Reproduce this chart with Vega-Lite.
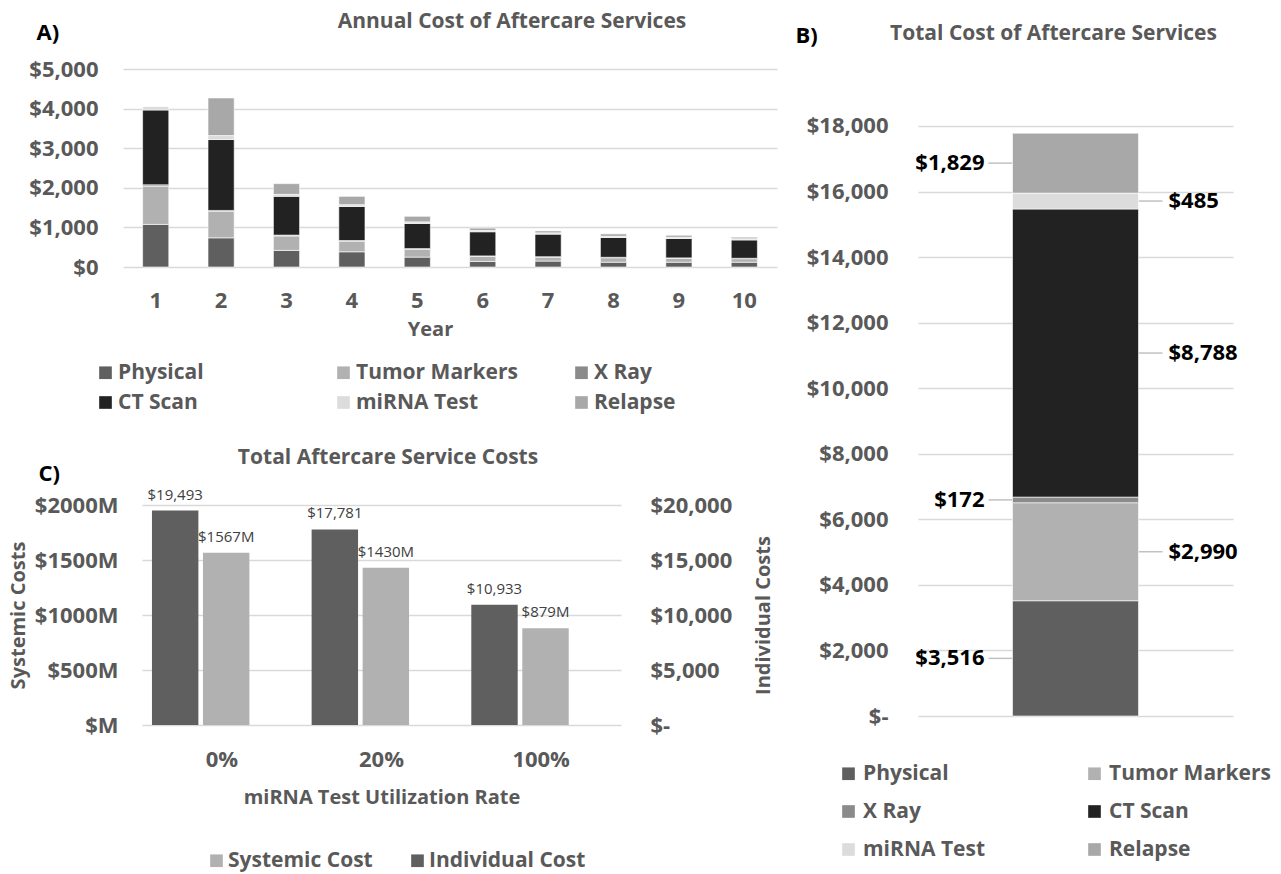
{
  "$schema": "https://vega.github.io/schema/vega-lite/v6.json",
  "background": "white",
  "padding": {"left": 8, "top": 11, "right": 0, "bottom": 6},
  "datasets": {
    "annual": [
      {"year": 1, "service": "Physical", "seq": 1, "cost": 1075},
      {"year": 1, "service": "Tumor Markers", "seq": 2, "cost": 965},
      {"year": 1, "service": "X Ray", "seq": 3, "cost": 35},
      {"year": 1, "service": "CT Scan", "seq": 4, "cost": 1890},
      {"year": 1, "service": "miRNA Test", "seq": 5, "cost": 93},
      {"year": 1, "service": "Relapse", "seq": 6, "cost": 0},
      {"year": 2, "service": "Physical", "seq": 1, "cost": 737},
      {"year": 2, "service": "Tumor Markers", "seq": 2, "cost": 665},
      {"year": 2, "service": "X Ray", "seq": 3, "cost": 27},
      {"year": 2, "service": "CT Scan", "seq": 4, "cost": 1790},
      {"year": 2, "service": "miRNA Test", "seq": 5, "cost": 100},
      {"year": 2, "service": "Relapse", "seq": 6, "cost": 950},
      {"year": 3, "service": "Physical", "seq": 1, "cost": 420},
      {"year": 3, "service": "Tumor Markers", "seq": 2, "cost": 365},
      {"year": 3, "service": "X Ray", "seq": 3, "cost": 20},
      {"year": 3, "service": "CT Scan", "seq": 4, "cost": 980},
      {"year": 3, "service": "miRNA Test", "seq": 5, "cost": 50},
      {"year": 3, "service": "Relapse", "seq": 6, "cost": 270},
      {"year": 4, "service": "Physical", "seq": 1, "cost": 384},
      {"year": 4, "service": "Tumor Markers", "seq": 2, "cost": 265},
      {"year": 4, "service": "X Ray", "seq": 3, "cost": 20},
      {"year": 4, "service": "CT Scan", "seq": 4, "cost": 860},
      {"year": 4, "service": "miRNA Test", "seq": 5, "cost": 45},
      {"year": 4, "service": "Relapse", "seq": 6, "cost": 210},
      {"year": 5, "service": "Physical", "seq": 1, "cost": 250},
      {"year": 5, "service": "Tumor Markers", "seq": 2, "cost": 195},
      {"year": 5, "service": "X Ray", "seq": 3, "cost": 20},
      {"year": 5, "service": "CT Scan", "seq": 4, "cost": 635},
      {"year": 5, "service": "miRNA Test", "seq": 5, "cost": 40},
      {"year": 5, "service": "Relapse", "seq": 6, "cost": 140},
      {"year": 6, "service": "Physical", "seq": 1, "cost": 140},
      {"year": 6, "service": "Tumor Markers", "seq": 2, "cost": 130},
      {"year": 6, "service": "X Ray", "seq": 3, "cost": 10},
      {"year": 6, "service": "CT Scan", "seq": 4, "cost": 610},
      {"year": 6, "service": "miRNA Test", "seq": 5, "cost": 32},
      {"year": 6, "service": "Relapse", "seq": 6, "cost": 60},
      {"year": 7, "service": "Physical", "seq": 1, "cost": 150},
      {"year": 7, "service": "Tumor Markers", "seq": 2, "cost": 100},
      {"year": 7, "service": "X Ray", "seq": 3, "cost": 10},
      {"year": 7, "service": "CT Scan", "seq": 4, "cost": 570},
      {"year": 7, "service": "miRNA Test", "seq": 5, "cost": 32},
      {"year": 7, "service": "Relapse", "seq": 6, "cost": 50},
      {"year": 8, "service": "Physical", "seq": 1, "cost": 120},
      {"year": 8, "service": "Tumor Markers", "seq": 2, "cost": 115},
      {"year": 8, "service": "X Ray", "seq": 3, "cost": 10},
      {"year": 8, "service": "CT Scan", "seq": 4, "cost": 500},
      {"year": 8, "service": "miRNA Test", "seq": 5, "cost": 31},
      {"year": 8, "service": "Relapse", "seq": 6, "cost": 60},
      {"year": 9, "service": "Physical", "seq": 1, "cost": 120},
      {"year": 9, "service": "Tumor Markers", "seq": 2, "cost": 100},
      {"year": 9, "service": "X Ray", "seq": 3, "cost": 10},
      {"year": 9, "service": "CT Scan", "seq": 4, "cost": 490},
      {"year": 9, "service": "miRNA Test", "seq": 5, "cost": 31},
      {"year": 9, "service": "Relapse", "seq": 6, "cost": 50},
      {"year": 10, "service": "Physical", "seq": 1, "cost": 120},
      {"year": 10, "service": "Tumor Markers", "seq": 2, "cost": 90},
      {"year": 10, "service": "X Ray", "seq": 3, "cost": 10},
      {"year": 10, "service": "CT Scan", "seq": 4, "cost": 463},
      {"year": 10, "service": "miRNA Test", "seq": 5, "cost": 31},
      {"year": 10, "service": "Relapse", "seq": 6, "cost": 39}
    ],
    "totals": [
      {"panel": "Total", "service": "Physical", "seq": 1, "cost": 3516},
      {"panel": "Total", "service": "Tumor Markers", "seq": 2, "cost": 2990},
      {"panel": "Total", "service": "X Ray", "seq": 3, "cost": 172},
      {"panel": "Total", "service": "CT Scan", "seq": 4, "cost": 8788},
      {"panel": "Total", "service": "miRNA Test", "seq": 5, "cost": 485},
      {"panel": "Total", "service": "Relapse", "seq": 6, "cost": 1829}
    ],
    "scenarios": [
      {"rate": "0%", "series": "Individual Cost", "value": 19493},
      {"rate": "0%", "series": "Systemic Cost", "value": 1567},
      {"rate": "20%", "series": "Individual Cost", "value": 17781},
      {"rate": "20%", "series": "Systemic Cost", "value": 1430},
      {"rate": "100%", "series": "Individual Cost", "value": 10933},
      {"rate": "100%", "series": "Systemic Cost", "value": 879}
    ]
  },
  "hconcat": [
    {
      "vconcat": [
        {
          "data": {"name": "annual"},
          "width": 654,
          "height": 198,
          "title": {"text": "Annual Cost of Aftercare Services", "dx": 62, "offset": -11},
          "mark": {"type": "bar", "stroke": "#ffffff", "strokeWidth": 0.6},
          "encoding": {
            "x": {
              "field": "year", "type": "ordinal",
              "scale": {"paddingInner": 0.6, "paddingOuter": 0.3},
              "axis": {"labelAngle": 0, "labelPadding": 23, "title": "Year", "titlePadding": 8, "titleX": 307, "grid": false}
            },
            "y": {
              "field": "cost", "type": "quantitative", "stack": "zero",
              "scale": {"domain": [0, 5000], "nice": false},
              "axis": {
                "values": [0, 1000, 2000, 3000, 4000, 5000], "format": "$,.0f", "labelPadding": 25,
                "title": "A)", "titleAngle": 0, "titleAlign": "left", "titleBaseline": "middle",
                "titleX": -87, "titleY": -37, "titleColor": "#000000", "titleFontSize": 22
              }
            },
            "color": {
              "field": "service", "type": "nominal",
              "scale": {
                "domain": ["Physical", "Tumor Markers", "X Ray", "CT Scan", "miRNA Test", "Relapse"],
                "range": ["#5f5f5f", "#b1b1b1", "#8b8b8b", "#222222", "#dcdcdc", "#a8a8a8"]
              },
              "legend": {
                "orient": "none", "legendX": -28, "legendY": 293, "direction": "horizontal", "columns": 3, "gridAlign": "all",
                "columnPadding": 52, "rowPadding": 8, "labelOffset": 2, "title": null
              }
            },
            "order": {"field": "seq", "type": "quantitative"}
          }
        },
        {
          "data": {"name": "scenarios"},
          "width": 498,
          "height": 220,
          "title": {"text": "Total Aftercare Service Costs", "dx": 16, "offset": -6},
          "encoding": {
            "xOffset": {
              "field": "series", "type": "nominal",
              "scale": {"domain": ["Individual Cost", "Systemic Cost"], "paddingInner": 0.09, "paddingOuter": 0.61, "align": 0.16}
            },
            "color": {
              "field": "series", "type": "nominal",
              "scale": {"domain": ["Systemic Cost", "Individual Cost"], "range": ["#b1b1b1", "#5f5f5f"]},
              "legend": {
                "orient": "none", "legendX": 83, "legendY": 345, "direction": "horizontal", "columns": 2, "gridAlign": "each",
                "columnPadding": 34, "labelOffset": 1, "title": null
              }
            }
          },
          "layer": [
            {
              "transform": [{"filter": "datum.series == 'Systemic Cost'"}],
              "encoding": {
                "x": {
                  "field": "rate", "type": "nominal", "sort": ["0%", "20%", "100%"],
                  "scale": {"range": [19, 498], "paddingInner": 0, "paddingOuter": 0},
                  "axis": {"orient": "bottom", "labelAngle": 0, "labelPadding": 24, "title": "miRNA Test Utilization Rate", "titlePadding": 17, "grid": false}
                },
                "y": {
                  "field": "value", "type": "quantitative",
                  "scale": {"domain": [0, 2000], "nice": false},
                  "axis": {
                    "orient": "left", "values": [0, 500, 1000, 1500, 2000], "grid": true,
                    "labelExpr": "'$' + (datum.value == 0 ? '' : datum.value) + 'M'",
                    "labelPadding": 5, "title": "Systemic Costs", "titlePadding": 6
                  }
                }
              },
              "layer": [
                {"mark": {"type": "bar"}},
                {
                  "mark": {"type": "text", "baseline": "bottom", "dy": -8, "fontSize": 15, "text": {"expr": "'$' + datum.value + 'M'"}},
                  "encoding": {"color": {"value": "#404040"}}
                }
              ]
            },
            {
              "transform": [{"filter": "datum.series == 'Individual Cost'"}],
              "encoding": {
                "x": {
                  "field": "rate", "type": "nominal", "sort": ["0%", "20%", "100%"],
                  "scale": {"range": [19, 498], "paddingInner": 0, "paddingOuter": 0},
                  "axis": {
                    "orient": "top", "labels": false, "grid": false,
                    "title": "C)", "titleAngle": 0, "titleAlign": "left", "titleBaseline": "middle",
                    "titleX": -85, "titleY": -32, "titleColor": "#000000", "titleFontSize": 22
                  }
                },
                "y": {
                  "field": "value", "type": "quantitative",
                  "scale": {"domain": [0, 20000], "nice": false},
                  "axis": {
                    "orient": "right", "values": [0, 5000, 10000, 15000, 20000], "grid": false,
                    "labelExpr": "datum.value == 0 ? '$-' : '$' + format(datum.value, ',')",
                    "labelPadding": 29, "title": "Individual Costs", "titleAngle": -90, "titlePadding": 42
                  }
                }
              },
              "layer": [
                {"mark": {"type": "bar"}},
                {
                  "mark": {"type": "text", "baseline": "bottom", "dy": -8, "fontSize": 15},
                  "encoding": {
                    "text": {"field": "value", "type": "quantitative", "format": "$,"},
                    "color": {"value": "#404040"}
                  }
                }
              ]
            }
          ],
          "resolve": {"scale": {"y": "independent"}, "axis": {"x": "independent"}}
        }
      ],
      "spacing": 34,
      "resolve": {"scale": {"color": "independent"}, "legend": {"color": "independent"}}
    },
    {
      "data": {"name": "totals"},
      "width": 315,
      "height": 647,
      "title": {"text": "Total Cost of Aftercare Services", "dx": -22, "offset": -20},
      "transform": [
        {"stack": "cost", "groupby": ["panel"], "sort": [{"field": "seq"}], "as": ["c0", "c1"]},
        {"fold": ["c0", "c1"], "as": ["edge", "pos"]},
        {"joinaggregate": [{"op": "mean", "field": "pos", "as": "mid"}], "groupby": ["service"]},
        {"filter": "datum.edge == 'c0'"}
      ],
      "layer": [
        {
          "transform": [{"filter": {"field": "service", "oneOf": ["Physical", "X Ray", "Relapse"]}}],
          "mark": {"type": "tick", "orient": "horizontal", "size": 24, "thickness": 1.5, "color": "#a6a6a6", "xOffset": -75},
          "encoding": {
            "x": {"field": "panel", "type": "nominal", "axis": null},
            "y": {"field": "mid", "type": "quantitative"}
          }
        },
        {
          "transform": [{"filter": {"field": "service", "oneOf": ["Tumor Markers", "CT Scan", "miRNA Test"]}}],
          "mark": {"type": "tick", "orient": "horizontal", "size": 24, "thickness": 1.5, "color": "#a6a6a6", "xOffset": 75},
          "encoding": {
            "x": {"field": "panel", "type": "nominal", "axis": null},
            "y": {"field": "mid", "type": "quantitative"}
          }
        },
        {
          "mark": {"type": "bar", "stroke": "#ffffff", "strokeWidth": 0.6},
          "encoding": {
            "x": {"field": "panel", "type": "nominal", "scale": {"paddingInner": 0.6, "paddingOuter": 0.3}, "axis": null},
            "y": {
              "field": "c0", "type": "quantitative",
              "scale": {"domain": [0, 19737], "nice": false},
              "axis": {
                "values": [0, 2000, 4000, 6000, 8000, 10000, 12000, 14000, 16000, 18000],
                "labelExpr": "datum.value == 0 ? '$-' : '$' + format(datum.value, ',')",
                "labelPadding": 30, "grid": true,
                "title": "B)", "titleAngle": 0, "titleAlign": "left", "titleBaseline": "middle",
                "titleX": -123, "titleY": -34, "titleColor": "#000000", "titleFontSize": 22
              }
            },
            "y2": {"field": "c1"},
            "color": {
              "field": "service", "type": "nominal",
              "scale": {
                "domain": ["Physical", "Tumor Markers", "X Ray", "CT Scan", "miRNA Test", "Relapse"],
                "range": ["#5f5f5f", "#b1b1b1", "#8b8b8b", "#222222", "#dcdcdc", "#a8a8a8"]
              },
              "legend": {
                "orient": "none", "legendX": -80, "legendY": 694, "direction": "horizontal", "columns": 2, "gridAlign": "all",
                "columnPadding": 58, "rowPadding": 16, "labelOffset": 4, "title": null
              }
            }
          }
        },
        {
          "transform": [{"filter": {"field": "service", "oneOf": ["Physical", "X Ray", "Relapse"]}}],
          "mark": {"type": "text", "align": "right", "baseline": "middle", "dx": -28, "fontSize": 22, "fontWeight": "bold", "color": "#000000"},
          "encoding": {
            "x": {"field": "panel", "type": "nominal", "bandPosition": 0, "axis": null},
            "y": {"field": "mid", "type": "quantitative"},
            "text": {"field": "cost", "type": "quantitative", "format": "$,"}
          }
        },
        {
          "transform": [{"filter": {"field": "service", "oneOf": ["Tumor Markers", "CT Scan", "miRNA Test"]}}],
          "mark": {"type": "text", "align": "left", "baseline": "middle", "dx": 30, "fontSize": 22, "fontWeight": "bold", "color": "#000000"},
          "encoding": {
            "x": {"field": "panel", "type": "nominal", "bandPosition": 1, "axis": null},
            "y": {"field": "mid", "type": "quantitative"},
            "text": {"field": "cost", "type": "quantitative", "format": "$,"}
          }
        }
      ]
    }
  ],
  "spacing": 18,
  "align": "none",
  "resolve": {"scale": {"color": "independent"}, "legend": {"color": "independent"}},
  "config": {
    "font": "Open Sans",
    "view": {"stroke": null},
    "axis": {
      "domain": false,
      "ticks": false,
      "gridColor": "#d9d9d9",
      "gridWidth": 1.5,
      "labelFont": "Open Sans",
      "labelFontSize": 22,
      "labelFontWeight": "bold",
      "labelColor": "#595959",
      "titleFont": "Open Sans",
      "titleFontSize": 20,
      "titleFontWeight": "bold",
      "titleColor": "#595959"
    },
    "axisX": {"grid": false},
    "axisY": {"grid": true},
    "legend": {
      "labelFont": "Open Sans",
      "labelFontSize": 21,
      "labelFontWeight": "bold",
      "labelColor": "#595959",
      "symbolType": "square",
      "symbolSize": 160,
      "symbolStrokeWidth": 0,
      "labelLimit": 400
    },
    "title": {"font": "Open Sans", "fontSize": 21, "fontWeight": "bold", "color": "#595959", "anchor": "middle"},
    "text": {"font": "Open Sans"}
  }
}
